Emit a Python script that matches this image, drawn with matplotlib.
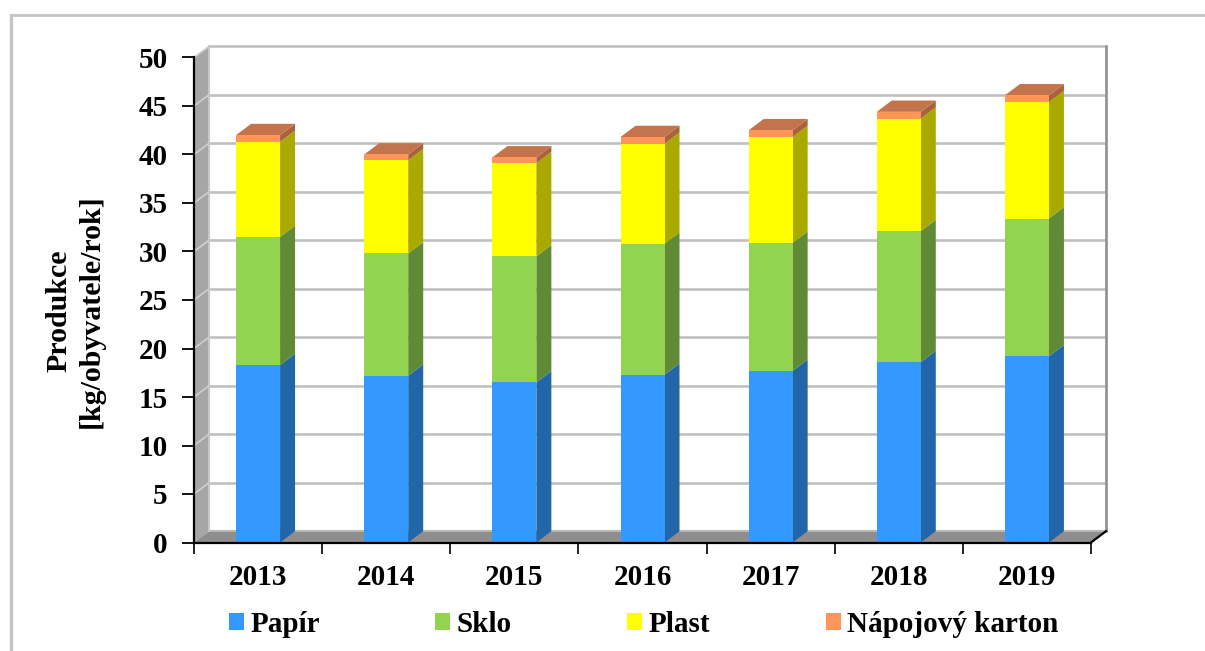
import matplotlib
matplotlib.use("Agg")
import matplotlib.pyplot as plt
from matplotlib.patches import Polygon, Patch
from matplotlib.lines import Line2D

years = ["2013", "2014", "2015", "2016", "2017", "2018", "2019"]
papir = [18.3, 17.2, 16.5, 17.3, 17.7, 18.6, 19.2]
sklo = [13.2, 12.6, 13.0, 13.5, 13.2, 13.5, 14.2]
plast = [9.8, 9.6, 9.6, 10.3, 10.9, 11.6, 12.0]
karton = [0.7, 0.6, 0.6, 0.7, 0.7, 0.7, 0.7]
series_names = ["Papír", "Sklo", "Plast", "Nápojový karton"]
series_values = [papir, sklo, plast, karton]
front_colors = ["#3399ff", "#92d350", "#ffff00", "#ff9559"]
side_colors = ["#2265a9", "#608a35", "#a9a900", "#a9633c"]
top_color = "#c4744d"
y_ticks = list(range(0, 51, 5))

W, H = 1205, 651
plt.rcParams["font.family"] = ["Liberation Serif", "DejaVu Serif"]
plt.rcParams["font.weight"] = "bold"

fig = plt.figure(figsize=(W / 100, H / 100), dpi=100, facecolor="white")
ax = fig.add_axes([194 / W, (H - 542.5) / H, 897 / W, 485 / H])
ax.set_xlim(0, 7)
ax.set_ylim(0, 50)
ax.patch.set_visible(False)

# depth of the pseudo-3D box in data units
dx = 15 / (897 / 7)
dy = 11.3 / (485 / 50)

# left wall and floor
ax.add_patch(Polygon([(0, 0), (dx, dy), (dx, 50 + dy), (0, 50)], closed=True,
                     fc="#a6a6a6", ec="none", zorder=1, clip_on=False))
ax.add_patch(Polygon([(0, 0), (7, 0), (7 + dx, dy), (dx, dy)], closed=True,
                     fc="#8e8e8e", ec="none", zorder=1, clip_on=False))

# gridlines on back wall + wall diagonals
for t in y_ticks[1:]:
    ax.plot([dx, 7 + dx], [t + dy, t + dy], color="#c0c0c0", lw=1.9, zorder=1.5,
            clip_on=False, solid_capstyle="butt")
    ax.plot([0, dx], [t, t + dy], color="#d0d0d0", lw=1.2, zorder=1.5, clip_on=False)
ax.plot([dx, 7 + dx], [dy, dy], color="#b8b8b8", lw=1.5, zorder=1.6, clip_on=False)
ax.plot([dx, dx], [dy, 50 + dy], color="#c8c8c8", lw=1.5, zorder=1.6, clip_on=False)
ax.plot([7 + dx, 7 + dx], [dy, 50 + dy], color="#909090", lw=1.9, zorder=1.6, clip_on=False)
ax.plot([7, 7 + dx], [0, dy], color="black", lw=1.6, zorder=1.7, clip_on=False)

# stacked bars
bar_w = 44 / (897 / 7)
for i in range(len(years)):
    c = i + 0.5
    x0, x1 = c - bar_w / 2, c + bar_w / 2
    base = 0.0
    for k, vals in enumerate(series_values):
        v = vals[i]
        ax.bar(c, v, width=bar_w, bottom=base, color=front_colors[k], linewidth=0,
               zorder=3, clip_on=False)
        ax.add_patch(Polygon([(x1, base), (x1 + dx, base + dy), (x1 + dx, base + v + dy), (x1, base + v)],
                             closed=True, fc=side_colors[k], ec="none", zorder=2.9, clip_on=False))
        base += v
    ax.add_patch(Polygon([(x0, base), (x1, base), (x1 + dx, base + dy), (x0 + dx, base + dy)],
                         closed=True, fc=top_color, ec="none", zorder=2.9, clip_on=False))

# axes
for s in ("top", "right"):
    ax.spines[s].set_visible(False)
for s in ("left", "bottom"):
    ax.spines[s].set_linewidth(1.6)
    ax.spines[s].set_zorder(5)
ax.set_yticks(y_ticks)
ax.set_xticks(range(8))
ax.set_xticklabels([])
ax.set_xticks([i + 0.5 for i in range(7)], labels=years, minor=True)
ax.tick_params(axis="x", which="major", length=8, width=1.2, color="black")
ax.tick_params(axis="x", which="minor", length=0, pad=15.5, labelsize=21)
ax.tick_params(axis="y", which="major", length=9, width=1.3, pad=10, labelsize=21)
ax.set_ylabel("Produkce\n[kg/obyvatele/rok]", fontsize=21.5, fontweight="bold", linespacing=1.25)
ax.yaxis.set_label_coords((105 - 194) / 897, 0.478)

# legend
handles = [Patch(fc=c, ec="none", label=n) for c, n in zip(front_colors, series_names)]
fig.legend(handles=handles, ncol=4, loc="lower left",
           bbox_to_anchor=(229 / W, (H - 638) / H), frameon=False, fontsize=21,
           handlelength=0.52, handleheight=0.5, handletextpad=0.22,
           columnspacing=3.95, borderpad=0, borderaxespad=0)

# outer border
fig.add_artist(Line2D([11 / W, 1 / 1], [(H - 15) / H, (H - 15) / H], color="#c4c4c4", lw=2))
fig.add_artist(Line2D([11 / W, 11 / W], [0, (H - 15) / H], color="#c4c4c4", lw=2.4))

fig.savefig("out.png", dpi=100, facecolor="white")
